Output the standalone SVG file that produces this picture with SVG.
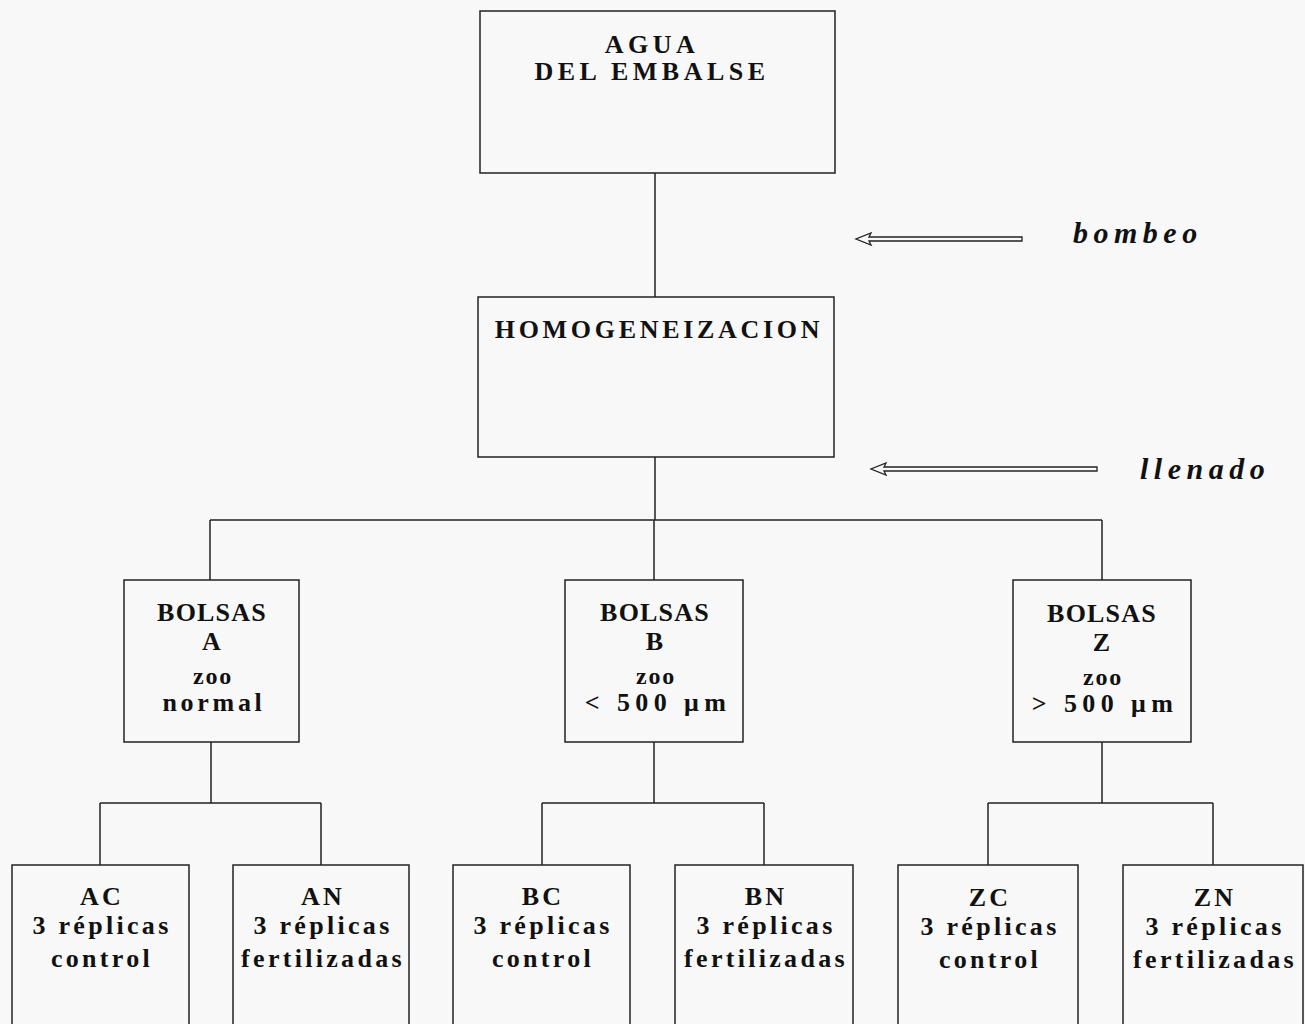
<svg xmlns="http://www.w3.org/2000/svg" width="1305" height="1024" viewBox="0 0 1305 1024">
<style>
.box{fill:none;stroke:#222;stroke-width:1.5}
.ln{fill:none;stroke:#222;stroke-width:1.5}
.t{font-family:"Liberation Serif","Times New Roman",serif;font-weight:bold;font-size:26px;fill:#111;text-anchor:middle;letter-spacing:3.3px}
.big{font-size:26px;letter-spacing:4.5px}
.b{letter-spacing:1.2px}
.s{font-size:24px;letter-spacing:1.8px}
.w{letter-spacing:5.4px}
.lab{font-family:"Liberation Serif","Times New Roman",serif;font-weight:bold;font-style:italic;font-size:30px;fill:#111;letter-spacing:5.5px}
.arr{fill:none;stroke:#222;stroke-width:1.3}
</style>
<rect width="1305" height="1024" fill="#f8f8f8"/>
<g id="connectors">
<path class="ln" d="M655 173V297M655 457V520M210 520H1102M210 520V580M654 520V580M1102 520V580"/>
<path class="ln" d="M211 742V803M100 803H321M100 803V865M321 803V865"/>
<path class="ln" d="M654 742V803M542 803H764M542 803V865M764 803V865"/>
<path class="ln" d="M1102 742V803M988 803H1213M988 803V865M1213 803V865"/>
</g>
<g id="arrow-bombeo">
<path class="arr" d="M1022 237H869L871 233L856 239L871 245L869 241H1022Z"/>
</g>
<g id="arrow-llenado">
<path class="arr" d="M1097 467H884L886 463L871 469L886 475L884 471H1097Z"/>
</g>
<text class="lab" x="1073" y="243">bombeo</text>
<text class="lab" x="1140" y="479">llenado</text>
<g id="agua"><rect class="box" x="480" y="11" width="355" height="162"/>
<text class="t big" x="652" y="53">AGUA</text><text class="t big" x="652" y="80">DEL EMBALSE</text></g>
<g id="homog"><rect class="box" x="478" y="297" width="356" height="160"/>
<text class="t big" x="659" y="338" style="letter-spacing:3.7px">HOMOGENEIZACION</text></g>
<g id="bolsasA"><rect class="box" x="124" y="580" width="175" height="162"/>
<text class="t b" x="212" y="621">BOLSAS</text><text class="t b" x="212" y="650">A</text>
<text class="t s" x="213" y="684">zoo</text><text class="t" x="214" y="711" style="letter-spacing:3.7px">normal</text></g>
<g id="bolsasB"><rect class="box" x="565" y="580" width="178" height="162"/>
<text class="t b" x="655" y="621">BOLSAS</text><text class="t b" x="655" y="650">B</text>
<text class="t s" x="656" y="684">zoo</text><text class="t w" x="658" y="711">&lt; 500 μm</text></g>
<g id="bolsasZ"><rect class="box" x="1013" y="580" width="178" height="162"/>
<text class="t b" x="1102" y="622">BOLSAS</text><text class="t b" x="1102" y="651">Z</text>
<text class="t s" x="1103" y="685">zoo</text><text class="t w" x="1105" y="712">&gt; 500 μm</text></g>
<g id="AC"><rect class="box" x="12" y="865" width="177" height="170"/>
<text class="t" x="102" y="905">AC</text><text class="t" x="102" y="934">3 réplicas</text><text class="t" x="102" y="967">control</text></g>
<g id="AN"><rect class="box" x="233" y="865" width="176" height="170"/>
<text class="t" x="323" y="905">AN</text><text class="t" x="323" y="934">3 réplicas</text><text class="t" x="323" y="967">fertilizadas</text></g>
<g id="BC"><rect class="box" x="453" y="865" width="177" height="170"/>
<text class="t" x="543" y="905">BC</text><text class="t" x="543" y="934">3 réplicas</text><text class="t" x="543" y="967">control</text></g>
<g id="BN"><rect class="box" x="675" y="865" width="178" height="170"/>
<text class="t" x="766" y="905">BN</text><text class="t" x="766" y="934">3 réplicas</text><text class="t" x="766" y="967">fertilizadas</text></g>
<g id="ZC"><rect class="box" x="898" y="865" width="180" height="170"/>
<text class="t" x="990" y="906">ZC</text><text class="t" x="990" y="935">3 réplicas</text><text class="t" x="990" y="968">control</text></g>
<g id="ZN"><rect class="box" x="1123" y="865" width="180" height="170"/>
<text class="t" x="1215" y="906">ZN</text><text class="t" x="1215" y="935">3 réplicas</text><text class="t" x="1215" y="968">fertilizadas</text></g>
</svg>
